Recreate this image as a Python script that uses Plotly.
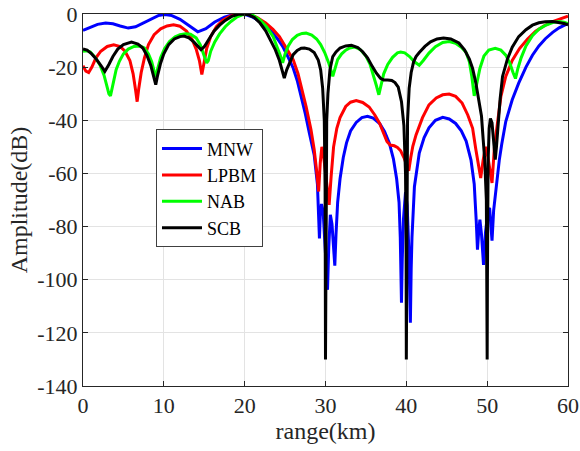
import plotly.graph_objects as go

# ---- data (range in km, amplitude in dB) ----
mnw_range = [0, 0.9, 1.8, 2.8, 3.7, 4.6, 5.6, 6.5, 7.5, 8.5, 9.3, 10.1, 11.0, 12.0, 13.0, 14.2, 15.2, 16.3, 17.5, 18.5,
             19.4, 20.3, 21.0, 21.9, 22.7, 23.5, 24.1, 24.7, 25.3, 26.0, 26.5, 27.0, 27.5, 28.0, 28.6, 29.0, 29.15, 29.25,
             29.35, 29.5, 29.7, 29.9, 30.1, 30.25, 30.4, 30.6, 30.8, 31.0, 31.15, 31.3, 31.5, 31.8, 32.2, 32.6, 33.1,
             33.8, 34.5, 35.2, 35.9, 36.7, 37.3, 37.9, 38.4, 38.8, 39.1, 39.25, 39.35, 39.4, 39.5, 39.65, 39.9, 40.1,
             40.3, 40.45, 40.5, 40.6, 40.7, 41.0, 41.6, 42.2, 42.8, 43.6, 44.5, 45.3, 46.1, 46.8, 47.4, 48.0, 48.4,
             48.65, 48.8, 48.95, 49.1, 49.3, 49.55, 49.8, 50.1, 50.3, 50.45, 50.6, 50.8, 51.1, 51.5, 51.8, 52.3, 53.1,
             53.9, 54.8, 55.6, 56.4, 57.2, 58.1, 58.9, 59.7, 60]
mnw_amp = [-6.2, -4.9, -3.9, -3.4, -3.7, -4.5, -5.3, -4.8, -3.3, -1.6, -0.6, -0.2, -0.6, -2.0, -4.2, -6.7, -5.5, -3.0,
           -1.2, -0.3, 0, -0.4, -1.2, -2.8, -4.8, -7.2, -9.5, -12.2, -15.8, -20.3, -25, -31, -37.5, -44.8, -53, -64,
           -74, -84.5, -76, -71.5, -74, -85, -96, -103.8, -88, -75.6, -79, -88, -94.7, -83, -71, -62, -54, -48.5,
           -44, -40.8, -39, -38.5, -39.2, -41.2, -44.2, -48.6, -54.5, -62, -71, -84, -100, -108.7, -92, -77, -67,
           -72, -88, -105, -116.2, -96, -84, -65, -52.3, -46.5, -42.8, -40, -38.9, -39.5, -41.2, -44, -47.8, -55,
           -64, -78, -88.7, -82, -77.4, -83, -94.4, -82, -74, -73, -78, -85.3, -74, -65, -55, -49, -40.5, -32.3,
           -26, -20, -15.5, -12, -9.3, -6.9, -5.2, -4.0, -3.6]

lpbm_range = [0, 0.35, 0.7, 1.1, 1.6, 2.2, 3.0, 3.8, 4.6, 5.2, 5.8, 6.2, 6.5, 6.7, 6.9, 7.2, 7.6, 8.1, 8.8, 9.6, 10.4,
              11.2, 12.0, 12.8, 13.5, 14.0, 14.4, 14.7, 15.0, 15.3, 15.8, 16.5, 17.3, 18.2, 19.2, 20.0, 20.8, 21.6,
              22.6, 23.5, 24.3, 25.1, 26.0, 26.6, 27.2, 27.6, 28.2, 28.6, 28.9, 29.15, 29.35, 29.55, 29.75, 30.0,
              30.25, 30.45, 30.7, 31.0, 31.4, 31.8, 32.5, 33.1, 33.8, 34.6, 35.4, 36.1, 36.7, 37.2, 37.6, 38.0, 38.5,
              38.9, 39.3, 39.7, 40.0, 40.3, 40.55, 40.8, 41.2, 41.6, 42.0, 42.8, 43.7, 44.5, 45.3, 46.1, 46.9, 47.6,
              48.2, 48.6, 48.9, 49.2, 49.5, 49.8, 50.1, 50.4, 50.6, 50.9, 51.3, 51.7, 52.3, 53.1, 54.0, 55.0, 56.0,
              57.0, 58.1, 59.0, 60]
lpbm_amp = [-19.5, -21.5, -22, -20, -16.5, -14, -12.2, -11.6, -12.3, -14, -17.5, -22.5, -28.5, -33, -28, -22, -16.5,
            -11.5, -7.8, -5.6, -4.5, -4.1, -4.6, -6.4, -9.6, -13.2, -17.5, -22.8, -18, -13, -8.5, -4.8, -2.3, -0.8,
            -0.1, 0, -0.4, -1.4, -3.4, -5.8, -8.5, -12.5, -17.2, -22.5, -29.7, -34.8, -43.5, -51, -59, -66.8, -56,
            -50, -53, -60, -67, -71.8, -61, -50, -43, -39, -34.8, -33.2, -32.6, -33.3, -35, -38, -41.2, -45, -48,
            -49.3, -49.6, -50.2, -51.5, -54, -56.5, -59, -54, -49.8, -45.5, -42.3, -39, -34.2, -31.6, -30.4, -30.1,
            -31, -33.5, -38, -43, -51, -56, -61.7, -55, -50, -54, -60, -63.6, -50, -39.8, -31, -23.5, -17.5, -13,
            -9.4, -6.5, -4.5, -2.9, -1.8, -0.8]

nab_range = [0, 0.5, 0.9, 1.5, 2.1, 2.6, 2.9, 3.2, 3.4, 3.6, 3.8, 4.1, 4.5, 5.0, 5.6, 6.3, 7.0, 7.6, 8.1, 8.5, 8.8,
             9.0, 9.2, 9.6, 10.1, 10.7, 11.4, 12.0, 12.7, 13.3, 14.0, 14.5, 14.9, 15.3, 15.5, 15.8, 16.3, 16.9, 17.6,
             18.3, 19.0, 19.7, 20.4, 21.0, 21.9, 22.7, 23.5, 24.0, 24.4, 24.7, 25.0, 25.4, 25.9, 26.5, 27.1, 27.6,
             28.3, 28.9, 29.4, 29.9, 30.4, 30.9, 31.2, 31.5, 32.0, 32.5, 33.0, 33.6, 34.3, 35.0, 35.5, 35.9, 36.3,
             36.6, 36.9, 37.2, 37.7, 38.3, 38.9, 39.3, 39.8, 40.4, 41.0, 41.6, 42.1, 42.8, 43.6, 44.5, 45.3, 46.1,
             46.8, 47.4, 47.8, 48.1, 48.4, 48.7, 49.1, 49.6, 50.2, 51.0, 51.7, 52.3, 52.8, 53.2, 53.5, 53.8, 54.2,
             54.8, 55.6, 56.4, 57.2, 58.1, 58.9, 59.5, 60]
nab_amp = [-14.0, -13.8, -14.3, -16.3, -19.2, -23, -26.5, -30, -30.8, -28, -24.5, -21, -17.8, -15, -13.2, -12.2, -12,
           -12.8, -15, -18, -21.5, -23.5, -21, -16.5, -13, -10.4, -8.6, -7.8, -7.4, -7.6, -9.0, -11.5, -15, -18.4,
           -17.5, -14, -10.5, -7.5, -4.8, -2.8, -1.2, -0.3, 0, -0.5, -2.2, -4.8, -8.4, -12, -15.5, -18.4, -15, -12,
           -9.6, -8, -7.3, -7.2, -7.9, -9.4, -11.5, -14.5, -18.4, -23.5, -20.5, -17.2, -15, -13.6, -12.8, -12.4,
           -13.4, -15.8, -18.8, -22.5, -27, -30.4, -26.5, -22.5, -19, -16.3, -14.6, -14.3, -14.6, -16, -18, -19.3,
           -17.5, -14.7, -12.3, -10.7, -10.4, -11, -12.5, -14.5, -18, -23.5, -30.8, -26, -20.5, -15.8, -13.6, -12.9,
           -13.6, -15.5, -18.5, -22, -24.3, -20.5, -16.5, -12, -8.2, -5.7, -4.3, -3.2, -2.8, -3.1, -3.6]

scb_range = [0, 0.5, 1.0, 1.6, 2.2, 2.7, 3.2, 3.7, 4.3, 5.0, 6.0, 6.8, 7.4, 7.9, 8.4, 8.8, 9.0, 9.2, 9.6, 10.0, 10.6,
             11.3, 12.0, 12.5, 13.1, 13.7, 14.2, 14.6, 15.0, 15.5, 16.2, 16.9, 17.6, 18.4, 19.2, 19.8, 20.5, 21.2,
             21.9, 22.6, 23.2, 23.8, 24.3, 24.7, 24.9, 25.2, 25.6, 26.0, 26.5, 27.0, 27.4, 28.0, 28.6, 29.1, 29.4,
             29.65, 29.85, 29.95, 30.0, 30.05, 30.15, 30.3, 30.55, 30.9, 31.3, 31.8, 32.5, 33.2, 34.0, 34.6, 35.2,
             35.8, 36.3, 36.8, 37.2, 37.7, 38.2, 38.6, 39.0, 39.4, 39.7, 39.9, 39.97, 40.0, 40.03, 40.15, 40.35,
             40.6, 40.9, 41.2, 41.6, 42.3, 43.0, 43.8, 44.6, 45.5, 46.5, 47.2, 47.8, 48.2, 48.6, 49.0, 49.3, 49.5,
             49.7, 49.9, 49.97, 50.0, 50.03, 50.12, 50.25, 50.4, 50.6, 50.8, 51.0, 51.15, 51.35, 51.6, 51.9, 52.5,
             53.1, 53.9, 54.8, 55.6, 56.4, 57.2, 58.1, 58.9, 59.5, 60]
scb_amp = [-13.2, -13.6, -14.8, -16.8, -19.3, -21.6, -19, -16, -13.2, -11.5, -10.6, -11.3, -12.8, -15.5, -19.5, -24,
           -26.6, -23.5, -18.5, -15, -11.5, -9.4, -8.5, -8.3, -9, -10.5, -12.3, -13.4, -12.3, -9.8, -6.5, -4.2, -2.4,
           -0.9, -0.1, 0, -0.3, -1.3, -3.4, -6.3, -9.7, -13.5, -17.5, -21.5, -24.1, -21, -18, -15.3, -13.7, -12.9,
           -12.8, -13.2, -14.5, -17.3, -21, -28, -40, -65, -130, -65, -40, -30, -21, -16, -14.3, -12.8, -12, -11.8,
           -12.6, -14.2, -16.5, -19.8, -22.3, -24.2, -24.8, -24.8, -25, -25.8, -27.5, -33, -42, -60, -85, -130, -85,
           -40, -28, -22, -18, -16, -14.5, -12.2, -10.5, -9.4, -9.0, -9.4, -10.9, -13.5, -17, -20.5, -26, -32.3,
           -38.5, -47, -55, -70, -100, -130, -100, -55, -43, -39.3, -41, -47, -54.8, -50, -40, -32, -23.5, -17,
           -12.5, -8.5, -5.9, -4.2, -3.3, -2.9, -2.8, -3.1, -3.6, -4.1]

series_names = ["MNW", "LPBM", "NAB", "SCB"]
series_colors = ["#0000FF", "#FF0000", "#00FF00", "#000000"]
x_ticks = [0, 10, 20, 30, 40, 50, 60]
y_ticks = [-140, -120, -100, -80, -60, -40, -20, 0]

FONT = "Liberation Serif, Times New Roman, serif"
fig = go.Figure()
for name, col, xs, ys in zip(series_names, series_colors,
                             [mnw_range, lpbm_range, nab_range, scb_range],
                             [mnw_amp, lpbm_amp, nab_amp, scb_amp]):
    fig.add_trace(go.Scatter(x=xs, y=ys, mode="lines", name=name,
                             line=dict(color=col, width=3)))

axis_common = dict(showline=True, linecolor="#262626", linewidth=1, mirror="allticks",
                   ticks="inside", ticklen=5, tickcolor="#262626",
                   showgrid=True, gridcolor="#e3e3e3", gridwidth=1, zeroline=False,
                   tickfont=dict(family=FONT, size=22, color="#262626"))
fig.update_xaxes(range=[0, 60], tickvals=x_ticks, ticktext=[str(v) for v in x_ticks],
                 title=dict(text="range(km)", font=dict(family=FONT, size=24, color="#262626"), standoff=2),
                 **axis_common)
fig.update_yaxes(range=[-140, 0], tickvals=y_ticks, ticktext=[str(v) for v in y_ticks],
                 title=dict(text="Amplitude(dB)", font=dict(family=FONT, size=24, color="#262626"), standoff=2),
                 **axis_common)
fig.update_layout(
    width=580, height=451,
    margin=dict(l=83, r=12, t=14, b=65, autoexpand=False),
    paper_bgcolor="white", plot_bgcolor="white",
    showlegend=True,
    legend=dict(x=0.1505, y=0.69, xanchor="left", yanchor="top",
                bgcolor="white", bordercolor="#404040", borderwidth=1,
                font=dict(family=FONT, size=18, color="#000000"),
                itemwidth=40, tracegroupgap=0),
)
fig.write_html("out.html")
